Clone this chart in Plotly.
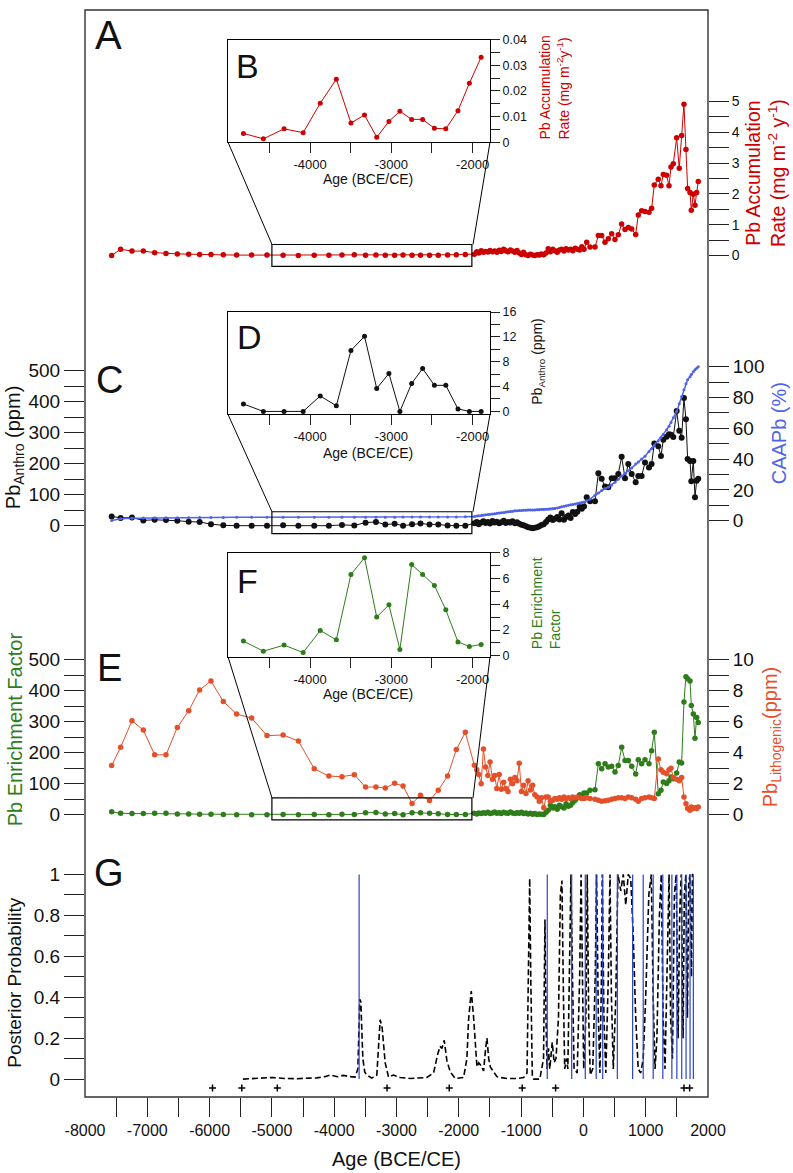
import plotly.graph_objects as go

# ---- data ----
# shared sample ages (BCE/CE), sparse part before the inset window
ages_early = [-7572, -7428, -7246, -7064, -6882, -6700, -6518, -6336, -6160, -5978,
              -5780, -5566, -5325, -5079]
# ages inside the zoomed window (insets B, D, F)
ages_inset = [-4820, -4575, -4320, -4085, -3875, -3677, -3497, -3330, -3180, -3030,
              -2895, -2750, -2615, -2470, -2330, -2180, -2040, -1895]
# densely sampled recent part
ages_recent = [-1751, -1712, -1680, -1641, -1605, -1570, -1533, -1498, -1460, -1425,
               -1390, -1352, -1318, -1280, -1245, -1210, -1172, -1138, -1100, -1066,
               -1030, -995, -960, -922, -888, -850, -815, -780, -742, -708,
               -672, -636, -600, -565, -530, -492, -458, -420, -385, -350,
               -312, -278, -240, -205, -170, -132, -98, -60, -25, 10,
               53, 106, 186, 240, 293, 347, 400, 454, 507, 560,
               614, 668, 721, 775, 839, 881, 935, 989, 1053, 1095,
               1138, 1202, 1245, 1283, 1336, 1374, 1406, 1443, 1497, 1539,
               1577, 1614, 1646, 1673, 1711, 1732, 1764, 1791, 1818, 1844]

# A / B : Pb accumulation rate (mg m-2 y-1)
acc_early = [0.0, 0.2, 0.14, 0.14, 0.09, 0.06, 0.05, 0.04, 0.03, 0.03, 0.02, 0.01, 0.01, 0.01]
acc_inset = [0.0034, 0.0013, 0.0052, 0.0037, 0.0152, 0.0246, 0.0075, 0.0106, 0.0019, 0.0081,
             0.0121, 0.0089, 0.0089, 0.0054, 0.0052, 0.0123, 0.0230, 0.0332]
acc_recent = [0.04, 0.12, 0.08, 0.15, 0.10, 0.13, 0.11, 0.16, 0.12, 0.14,
              0.10, 0.17, 0.13, 0.20, 0.15, 0.12, 0.18, 0.14, 0.10, 0.16,
              0.08, 0.03, 0.10, 0.02, 0.00, 0.04, 0.01, 0.00, 0.02, 0.01,
              0.05, 0.02, 0.08, 0.22, 0.12, 0.20, 0.15, 0.10, 0.18, 0.20,
              0.14, 0.22, 0.18, 0.20, 0.15, 0.23, 0.20, 0.18, 0.28, 0.20,
              0.43, 0.27, 0.27, 0.65, 0.65, 0.43, 0.54, 0.70, 0.52, 0.67,
              1.02, 0.84, 0.91, 0.86, 0.68, 1.31, 1.45, 1.43, 1.40, 1.53,
              2.29, 2.47, 2.26, 2.63, 2.60, 2.26, 2.87, 2.98, 3.82, 2.83,
              3.89, 4.91, 3.44, 2.17, 2.04, 1.47, 1.99, 1.63, 2.04, 2.40]

# C / D : Pb anthropogenic (ppm)
anthro_early = [30, 25, 26, 17, 19, 18, 16, 13, 12, 5, 1, 0, 0, 0]
anthro_inset = [1.2, 0, 0, 0, 2.5, 0.9, 9.8, 12.1, 3.7, 6.1, 0, 4.5, 6.9, 4.2, 4.2, 0.4, 0, 0]
anthro_recent = [8, 12, 5, 10, 14, 9, 12, 7, 15, 10,
                 13, 8, 11, 16, 9, 12, 10, 14, 8, 11,
                 6, 3, 1, -2, -5, -7, -8, -7, -5, -2,
                 2, 5, 12, 20, 26, 18, 22, 28, 20, 40,
                 19, 28, 33, 25, 44, 38, 45, 60, 55, 62,
                 92, 79, 79, 169, 151, 126, 124, 153, 153, 167,
                 222, 153, 199, 167, 140, 160, 160, 204, 188, 199,
                 265, 256, 225, 277, 287, 295, 293, 286, 370, 306,
                 284, 412, 343, 215, 209, 143, 209, 92, 145, 151]

# C : cumulative anthropogenic Pb (%)
caapb_early = [0.2, 1.2, 1.6, 1.7, 1.8, 1.9, 2.0, 2.0, 2.1, 2.1, 2.1, 2.2, 2.2, 2.2]
caapb_inset = [2.2, 2.2, 2.2, 2.2, 2.2, 2.3, 2.3, 2.3, 2.3, 2.3, 2.4, 2.4, 2.4, 2.4, 2.4, 2.4, 2.4, 2.5]
caapb_recent = [2.8, 3.0, 3.2, 3.4, 3.6, 3.8, 4.0, 4.2, 4.4, 4.6,
                4.8, 5.0, 5.2, 5.4, 5.6, 5.8, 6.0, 6.2, 6.4, 6.5,
                6.6, 6.7, 6.8, 6.8, 6.9, 6.9, 7.0, 7.0, 7.1, 7.1,
                7.2, 7.3, 7.4, 7.5, 7.6, 7.8, 8.0, 8.3, 8.6, 9.0,
                9.4, 9.7, 10.0, 10.3, 10.6, 10.9, 11.2, 11.5, 11.8, 12.1,
                13.0, 14.0, 16.5, 18.0, 19.6, 20.9, 21.8, 23.2, 25.0, 27.0,
                29.0, 30.8, 32.5, 34.3, 36.8, 38.2, 40.0, 41.8, 45.0, 46.8,
                48.8, 51.8, 54.0, 55.9, 59.0, 61.4, 63.8, 66.8, 71.0, 76.0,
                80.5, 85.0, 89.0, 91.5, 93.5, 95.0, 96.8, 98.0, 99.0, 100.0]

# E / F : Pb enrichment factor
ef_early = [9.6, 5, 4, 4, 5, 5, 3, 3, 2, 2, 1, 0.5, 0.5, 0.5]
ef_inset = [1.14, 0.36, 0.83, 0.26, 1.96, 1.24, 6.3, 7.6, 3.0, 3.95,
            0.49, 7.07, 6.3, 5.45, 3.56, 1.08, 0.72, 0.88]
ef_recent = [5, 3, 6, 4, 7, 5, 8, 4, 6, 9,
             5, 7, 4, 8, 6, 5, 9, 6, 4, 7,
             5, 8, 4, 6, 3, 5, 2, 4, 1, 3,
             2, 1, 8, 15, 31, 22, 26, 18, 31, 26,
             22, 36, 28, 31, 40, 47, 55, 65, 60, 70,
             70, 79, 81, 165, 149, 165, 154, 157, 138, 159,
             218, 175, 175, 157, 132, 178, 165, 178, 165, 207,
             266, 68, 79, 106, 101, 110, 122, 116, 135, 170,
             167, 364, 445, 439, 432, 353, 325, 247, 314, 298]

# E : Pb lithogenic (ppm)
litho_early = [3.18, 4.36, 6.07, 5.47, 3.87, 3.87, 5.64, 6.71, 8.06, 8.63, 7.31, 6.50, 6.24, 5.11]
litho_inset = [5.15, 4.76, 2.97, 2.5, 2.46, 2.59, 1.79, 1.79, 1.73, 2.03,
               1.86, 0.73, 1.26, 0.92, 1.58, 2.5, 4.21, 5.32]
litho_recent = [3.2, 2.9, 2.6, 2.0, 4.25, 3.08, 2.54, 3.4, 2.3, 2.54,
                1.7, 2.6, 1.65, 2.1, 1.7, 1.5, 2.3, 2.0, 2.4, 2.2,
                3.33, 1.5, 1.9, 1.37, 2.2, 1.6, 1.9, 1.3, 1.15, 0.88,
                1.1, 0.45, 1.15, 1.15, 0.88, 0.94, 1.05, 1.0, 1.1, 1.0,
                1.15, 1.05, 1.1, 1.05, 1.15, 1.1, 1.15, 1.1, 1.05, 1.05,
                1.1, 1.05, 1.0, 0.94, 0.88, 0.9, 0.94, 1.0, 1.05, 1.1,
                1.1, 1.05, 1.15, 1.1, 1.0, 0.88, 1.05, 1.1, 1.15, 1.1,
                1.05, 3.6, 2.9, 2.75, 2.65, 2.9, 3.0, 2.4, 2.3, 2.2,
                2.4, 1.15, 0.72, 0.4, 0.3, 0.5, 0.4, 0.45, 0.4, 0.5]

# G : posterior probability (dashed curve)
post_age = [-5465, -5300, -5100, -4980, -4800, -4600, -4400, -4280, -4150, -4067,
            -3950, -3850, -3745, -3665, -3620, -3590, -3573, -3540, -3510, -3477,
            -3397, -3316, -3290, -3262, -3230, -3182, -3128, -3048, -2941, -2780,
            -2512, -2405, -2340, -2300, -2271, -2234, -2191, -2137, -2057, -1923,
            -1870, -1843, -1800, -1762, -1709, -1680, -1655, -1602, -1570, -1548,
            -1520, -1494, -1441, -1387, -1334, -1227, -1066, -959, -905, -880,
            -862, -845, -820, -798, -700, -640, -617, -600, -584, -560,
            -540, -500, -470, -440, -400, -370, -345, -320, -300, -270,
            -250, -220, -200, -175, -150, -100, -60, -37, -15, 5,
            40, 62, 85, 110, 150, 190, 212, 240, 265, 290,
            303, 330, 360, 400, 427, 450, 480, 520, 555, 600,
            640, 680, 720, 760, 800, 840, 880, 920, 960, 1000,
            1050, 1090, 1120, 1150, 1180, 1220, 1250, 1280, 1310, 1345,
            1375, 1400, 1430, 1460, 1490, 1520, 1545, 1570, 1600, 1620,
            1645, 1670, 1690, 1710, 1735, 1750, 1765]
post_prob = [0.0, 0.002, 0.003, 0.008, 0.003, 0.002, 0.005, 0.006, 0.012, 0.02,
             0.012, 0.018, 0.012, 0.01, 0.05, 0.39, 0.38, 0.1, 0.035, 0.02,
             0.005, 0.02, 0.15, 0.29, 0.25, 0.08, 0.01, 0.02, 0.008, 0.003,
             0.008, 0.03, 0.12, 0.16, 0.15, 0.19, 0.09, 0.035, 0.003, 0.008,
             0.1, 0.29, 0.43, 0.3, 0.06, 0.08, 0.07, 0.04, 0.15, 0.2,
             0.1, 0.06, 0.035, 0.012, 0.008, 0.003, 0.003, 0.008, 0.03, 0.6,
             0.98, 0.5, 0.02, 0.0, 0.0, 0.1, 0.78, 0.3, 0.05, 0.15,
             0.05, 0.18, 0.08, 0.1, 0.3, 0.9, 0.97, 0.4, 0.05, 0.1,
             0.05, 0.6, 1.0, 0.5, 0.05, 0.03, 0.5, 1.0, 0.4, 0.05,
             0.3, 1.0, 0.3, 0.02, 0.05, 0.5, 1.0, 0.3, 0.03, 0.5,
             1.0, 0.3, 0.03, 0.5, 1.0, 0.4, 0.05, 0.4, 1.0, 0.92,
             1.0, 0.85, 1.0, 0.98, 0.7, 0.3, 0.05, 0.03, 0.1, 0.4,
             0.9, 1.0, 0.4, 0.05, 0.2, 0.8, 1.0, 0.3, 0.05, 0.5,
             1.0, 0.3, 0.1, 0.9, 1.0, 0.2, 0.8, 1.0, 0.2, 0.9,
             1.0, 0.3, 0.95, 1.0, 0.5, 1.0, 1.0]
# G : blue change-point lines and dated horizons (+)
blue_line_ages = [-3600, -580, -188, 30, 205, 310, 545, 790, 960, 1120,
                  1275, 1420, 1500, 1578, 1648, 1712, 1765]
plus_age = [-5953, -5483, -4913, -3151, -2153, -982, -446, 1615, 1705]
plus_prob = [-0.044, -0.044, -0.044, -0.044, -0.044, -0.044, -0.044, -0.044, -0.044]

# ---- colours / fonts ----
RED = "#cc0000"
BLACK = "#111111"
BLUE = "#4f63e6"
GREEN = "#2e7d1a"
ORANGE = "#e4502a"
LINEBLUE = "#2a44c8"
FONT = "Liberation Sans, Arial, sans-serif"

# ---- page geometry (pixels) ----
L, R, T, B = 85, 708, 3, 1097
W, H = R - L, B - T


def fx(px):
    return (px - L) / W


def fy(py):
    return (B - py) / H


def dom(top, bot):
    return [fy(bot), fy(top)]


def yrange(v0, p0, v1, p1, top, bot):
    k = (v1 - v0) / (p0 - p1)
    return [v0 - (bot - p0) * k, v0 + (p0 - top) * k]


all_ages = ages_early + ages_inset + ages_recent

fig = go.Figure()


def series(x, y, color, xa, ya, size=5.5, width=1.0):
    fig.add_trace(go.Scatter(x=x, y=y, mode="lines+markers", xaxis=xa, yaxis=ya,
                             line=dict(color=color, width=width),
                             marker=dict(color=color, size=size),
                             showlegend=False, hoverinfo="skip"))


# A
series(all_ages, acc_early + acc_inset + acc_recent, RED, "x", "y6")
# C
series(all_ages, caapb_early + caapb_inset + caapb_recent, BLUE, "x", "y5", size=3, width=1.5)
series(all_ages, anthro_early + anthro_inset + anthro_recent, BLACK, "x", "y4", size=6)
# E
series(all_ages, litho_early + litho_inset + litho_recent, ORANGE, "x", "y3")
series(all_ages, ef_early + ef_inset + ef_recent, GREEN, "x", "y2")

# G
fig.add_trace(go.Scatter(x=post_age, y=post_prob, mode="lines", xaxis="x", yaxis="y",
                         line=dict(color="black", width=1.6, dash="6px,3px"),
                         showlegend=False, hoverinfo="skip"))
bx, by = [], []
for a in blue_line_ages:
    bx += [a, a, None]
    by += [0, 1, None]
fig.add_trace(go.Scatter(x=bx, y=by, mode="lines", xaxis="x", yaxis="y",
                         line=dict(color=LINEBLUE, width=1.2),
                         showlegend=False, hoverinfo="skip"))
fig.add_trace(go.Scatter(x=plus_age, y=plus_prob, mode="markers", xaxis="x", yaxis="y",
                         marker=dict(symbol="cross-thin", size=5, line=dict(color="black", width=1.5)),
                         showlegend=False, hoverinfo="skip"))

# insets
series(ages_inset, acc_inset, RED, "x2", "y7", size=5)
series(ages_inset, anthro_inset, BLACK, "x3", "y8", size=5)
series(ages_inset, ef_inset, GREEN, "x4", "y9", size=5)

# invisible trace holding the tick-only overlay axis
fig.add_trace(go.Scatter(x=[-8000], y=[0], xaxis="x5", yaxis="y", mode="markers",
                         marker=dict(opacity=0), showlegend=False, hoverinfo="skip"))

tick_common = dict(showgrid=False, zeroline=False, showline=False, ticks="outside",
                   tickcolor="#222", tickwidth=1.2)


def main_y(domain, rng, vals, texts, minor_vals, side="left", size=19, overlay=None):
    d = dict(tick_common, anchor="x", side=side, range=rng, tickvals=vals, ticktext=texts,
             ticklen=20, tickfont=dict(family=FONT, size=size, color="#111"),
             minor=dict(tickvals=minor_vals, ticks="outside", ticklen=20,
                        tickcolor="#222", tickwidth=1.2))
    if overlay:
        d["overlaying"] = overlay
    else:
        d["domain"] = domain
    return d


def inset_axes(ydomain, yrng, yvals, ytexts, yminor):
    xa = dict(tick_common, domain=[fx(228), fx(490)], range=[-5010, -1786],
              showline=True, mirror=True, linecolor="black", linewidth=1.2,
              tickvals=[-4000, -3000, -2000], ticktext=["-4000", "-3000", "-2000"],
              ticklen=10, tickfont=dict(family=FONT, size=13, color="#111"),
              minor=dict(tickvals=[-4500, -3500, -2500], ticks="outside", ticklen=10,
                         tickcolor="#222", tickwidth=1.2))
    ya = dict(tick_common, domain=ydomain, range=yrng, side="right",
              showline=True, mirror=True, linecolor="black", linewidth=1.2,
              tickvals=yvals, ticktext=ytexts, ticklen=9,
              tickfont=dict(family=FONT, size=12.5, color="#111"),
              minor=dict(tickvals=yminor, ticks="outside", ticklen=9,
                         tickcolor="#222", tickwidth=1.2))
    return xa, ya


xb, yb = inset_axes(dom(33, 136), yrange(0, 136, 0.04, 33, 33, 136),
                    [0, 0.01, 0.02, 0.03, 0.04], ["0", "0.01", "0.02", "0.03", "0.04"],
                    [0.005, 0.015, 0.025, 0.035])
xd, yd = inset_axes(dom(307, 410), yrange(0, 407, 16, 307, 307, 410),
                    [0, 4, 8, 12, 16], ["0", "4", "8", "12", "16"], [2, 6, 10, 14])
xf, yf = inset_axes(dom(549, 654), yrange(0, 653, 8, 549, 549, 654),
                    [0, 2, 4, 6, 8], ["0", "2", "4", "6", "8"], [1, 3, 5, 7])

fig.update_layout(
    width=793, height=1173,
    margin=dict(l=L, r=793 - R, t=T, b=1173 - B),
    paper_bgcolor="white", plot_bgcolor="rgba(0,0,0,0)",
    font=dict(family=FONT, color="#111"),
    xaxis=dict(tick_common, domain=[0, 1], anchor="y", range=[-8000, 2000],
               tickvals=[-8000, -7000, -6000, -5000, -4000, -3000, -2000, -1000, 0, 1000, 2000],
               ticktext=["-8000", "-7000", "-6000", "-5000", "-4000", "-3000", "-2000",
                         "-1000", "0", "1000", "2000"],
               ticklen=19, tickcolor="rgba(0,0,0,0)",
               tickfont=dict(family=FONT, size=16, color="#111")),
    xaxis5=dict(tick_common, overlaying="x", anchor="y", range=[-8000, 2000],
                tickvals=[-7500, -7000, -6500, -6000, -5500, -5000, -4500, -4000, -3500,
                          -3000, -2500, -2000, -1500, -1000, -500, 0, 500, 1000, 1500],
                ticklen=19, showticklabels=False),
    yaxis=main_y(dom(850, B), yrange(0, 1079, 1, 873, 850, B),
                 [0, 0.2, 0.4, 0.6, 0.8, 1], ["0", "0.2", "0.4", "0.6", "0.8", "1"],
                 [0.1, 0.3, 0.5, 0.7, 0.9]),
    yaxis2=main_y(dom(560, 830), yrange(0, 813, 500, 657, 560, 830),
                  [0, 100, 200, 300, 400, 500], ["0", "100", "200", "300", "400", "500"],
                  [50, 150, 250, 350, 450]),
    yaxis3=main_y(None, yrange(0, 813, 10, 657, 560, 830),
                  [0, 2, 4, 6, 8, 10], ["0", "2", "4", "6", "8", "10"],
                  [1, 3, 5, 7, 9], side="right", overlay="y2"),
    yaxis4=main_y(dom(300, 540), yrange(0, 522, 500, 366, 300, 540),
                  [0, 100, 200, 300, 400, 500], ["0", "100", "200", "300", "400", "500"],
                  [50, 150, 250, 350, 450]),
    yaxis5=main_y(None, yrange(0, 517, 100, 362, 300, 540),
                  [0, 20, 40, 60, 80, 100], ["0", "20", "40", "60", "80", "100"],
                  [10, 30, 50, 70, 90], side="right", overlay="y4"),
    yaxis6=main_y(dom(80, 268), yrange(0, 250, 5, 95, 80, 268),
                  [0, 1, 2, 3, 4, 5], ["0", "1", "2", "3", "4", "5"],
                  [0.5, 1.5, 2.5, 3.5, 4.5], side="right", size=14),
    xaxis2=dict(xb, anchor="y7"), yaxis7=dict(yb, anchor="x2"),
    xaxis3=dict(xd, anchor="y8"), yaxis8=dict(yd, anchor="x3"),
    xaxis4=dict(xf, anchor="y9"), yaxis9=dict(yf, anchor="x4"),
)

# frame, zoom windows and connector lines
shapes = [dict(type="rect", xref="paper", yref="paper", x0=0, x1=1, y0=0, y1=1,
               line=dict(color="#333", width=1.4))]
for top, bot, inset_bot in [(239, 261, 136), (508, 530, 410), (796, 818, 654)]:
    shapes.append(dict(type="rect", xref="x", yref="paper", x0=-5000, x1=-1790,
                       y0=fy(bot), y1=fy(top), line=dict(color="black", width=1.2)))
    shapes.append(dict(type="line", xref="paper", yref="paper", x0=fx(228), y0=fy(inset_bot),
                       x1=fx(272), y1=fy(top), line=dict(color="black", width=1)))
    shapes.append(dict(type="line", xref="paper", yref="paper", x0=fx(490), y0=fy(inset_bot),
                       x1=fx(473), y1=fy(top), line=dict(color="black", width=1)))
fig.update_layout(shapes=shapes)

ann = []


def label(text, px, py, size, color="#111", angle=0, align="center"):
    ann.append(dict(text=text, x=fx(px), y=fy(py), xref="paper", yref="paper",
                    xanchor="center", yanchor="middle", showarrow=False, textangle=angle,
                    align=align, font=dict(family=FONT, size=size, color=color)))


for t, px, py, s in [("A", 108, 28, 40), ("B", 247, 59, 34), ("C", 109, 375, 38),
                     ("D", 249, 332, 34), ("E", 109, 665, 38), ("F", 247, 578, 34),
                     ("G", 109, 872, 38)]:
    label(t, px, py, s)

label("Pb Accumulation<br>Rate (mg m<sup>-2</sup> y<sup>-1</sup>)", 766, 167, 19.5, RED, -90)
label("Pb Accumulation<br>Rate (mg m<sup>-2</sup>y<sup>-1</sup>)", 554, 81, 14, RED, -90, "left")
label("Pb<sub>Anthro</sub> (ppm)", 14, 443, 20, "#111", -90)
label("CAAPb (%)", 779, 429, 20, BLUE, -90)
label("Pb<sub>Anthro</sub> (ppm)", 538, 357, 14, "#111", -90)
label("Pb Enrichment Factor", 15, 727, 20, GREEN, -90)
label("Pb<sub>Lithogenic</sub>(ppm)", 771, 735, 20, ORANGE, -90)
label("Pb Enrichment<br>Factor", 546, 600, 14, GREEN, -90, "left")
label("Posterior Probability", 15, 982, 19, "#111", -90)
label("Age (BCE/CE)", 396, 1159, 20)
for py in (173, 449, 691):
    label("Age (BCE/CE)", 368, py, 14)
fig.update_layout(annotations=ann)

# remove the default 8px page margin so the figure sits at the window origin
fig.write_html("out.html", config={"displayModeBar": False},
               post_script="document.body.style.margin='0';")
